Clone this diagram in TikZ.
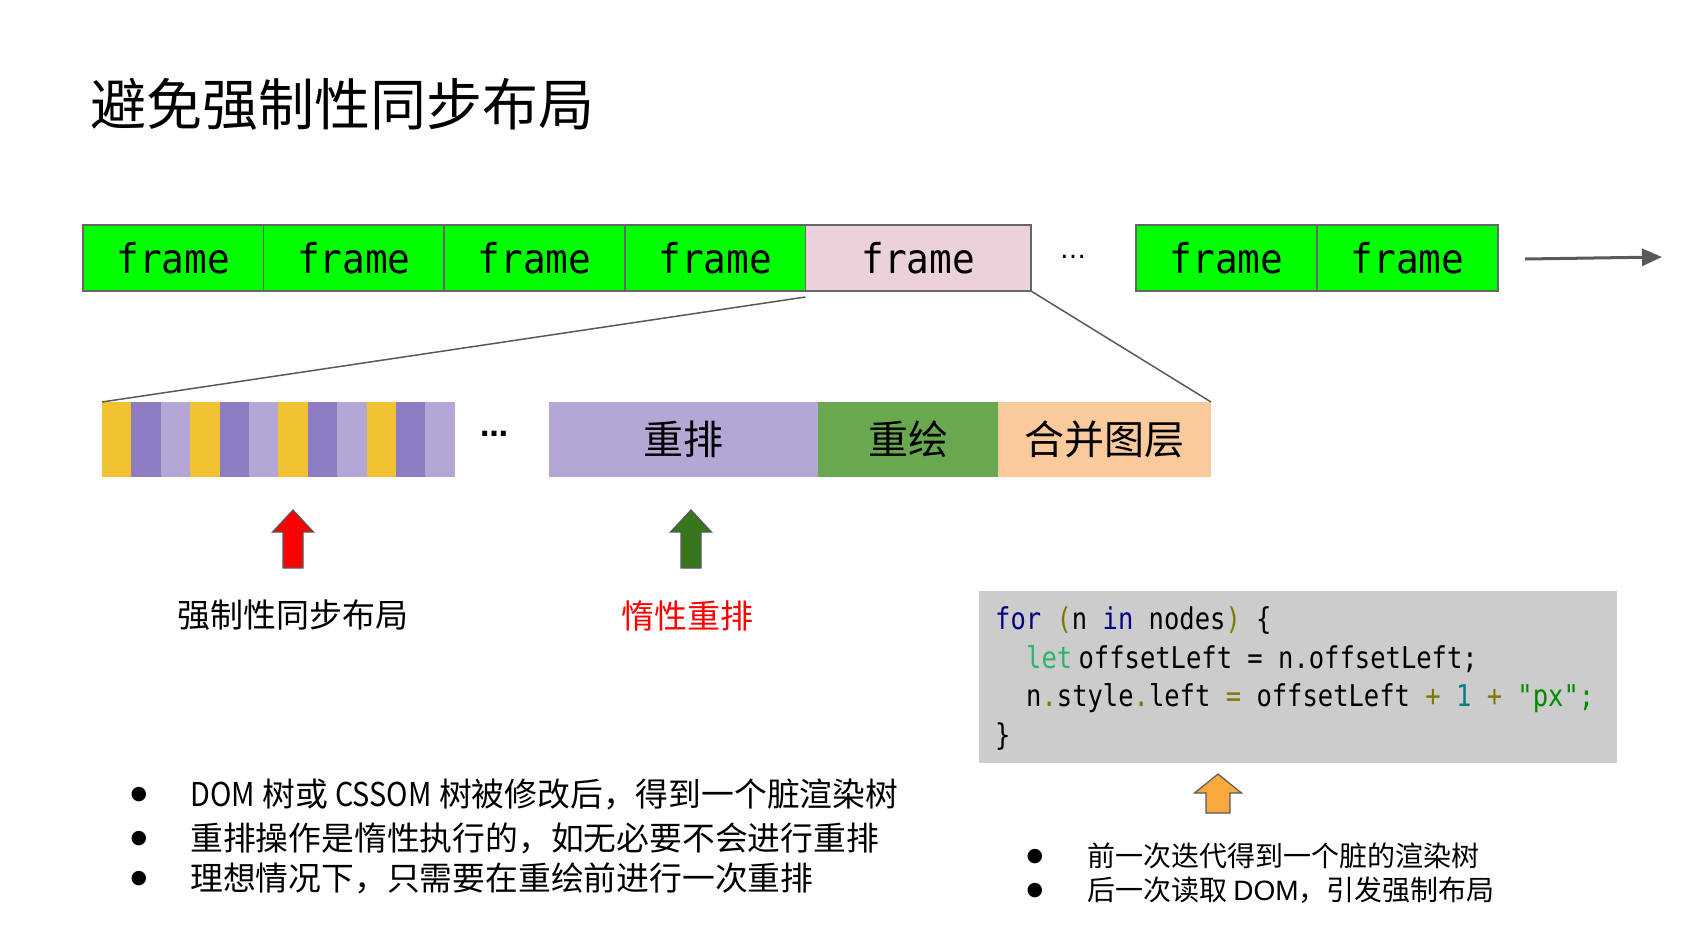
\documentclass[tikz,border=0pt]{standalone}
\usepackage{fontspec}
\setmainfont{Noto Sans CJK SC}
\newfontfamily\narrowlatin[FakeStretch=0.88]{Noto Sans CJK SC}
\newfontfamily\framemono[FakeStretch=0.92]{DejaVu Sans Mono}
\newfontfamily\codemono[FakeStretch=0.85]{DejaVu Sans Mono}
\newfontfamily\symfont{DejaVu Sans}
\newfontfamily\arialfont{Liberation Sans}
\usetikzlibrary{arrows.meta,calc}

\definecolor{framegreen}{HTML}{00FF00}
\definecolor{framepink}{HTML}{EAD1DC}
\definecolor{frameborder}{HTML}{666666}
\definecolor{stripeyellow}{HTML}{F1C232}
\definecolor{stripepurple}{HTML}{8E7CC3}
\definecolor{stripelilac}{HTML}{B4A7D6}
\definecolor{paintgreen}{HTML}{6AA84F}
\definecolor{layerpeach}{HTML}{F9CB9C}
\definecolor{codebg}{HTML}{CCCCCC}
\definecolor{linegray}{HTML}{595959}
\definecolor{arrowred}{HTML}{FF0000}
\definecolor{arrowgreen}{HTML}{38761D}
\definecolor{arroworange}{HTML}{F9A83E}
\definecolor{kwblue}{HTML}{000080}
\definecolor{codeolive}{HTML}{7A7A00}
\definecolor{letgreen}{HTML}{2DB36E}
\definecolor{numteal}{HTML}{008080}
\definecolor{strgreen}{HTML}{008A00}

\tikzset{
  framebox/.style={draw=frameborder, line width=1.5pt, fill=framegreen,
    minimum height=66pt, inner sep=0pt, outer sep=0pt, anchor=west,
    font=\framemono\fontsize{41}{44}\selectfont},
  stagebox/.style={inner sep=0pt, outer sep=0pt, minimum height=75pt, anchor=west,
    font=\fontsize{40}{44}\selectfont},
  stripe/.style={inner sep=0pt, outer sep=0pt, minimum height=75pt, minimum width=29.4pt, anchor=west},
  conn/.style={draw=linegray, line width=1.5pt},
  blockarrow/.style={draw=linegray, line width=1.2pt, line join=miter},
  codeline/.style={anchor=west, inner sep=0pt, font=\codemono\fontsize{30}{34}\selectfont},
  bulletdot/.style={inner sep=0pt, font=\symfont\fontsize{19}{21}\selectfont},
  leftitem/.style={anchor=west, inner sep=0pt, font=\fontsize{32.8}{36}\selectfont},
  rightitem/.style={anchor=west, inner sep=0pt, font=\fontsize{28}{32}\selectfont},
  caption/.style={inner sep=0pt, font=\fontsize{33}{36}\selectfont},
}

\begin{document}
\begin{tikzpicture}[x=1pt,y=-1pt]
\useasboundingbox (0,0) rectangle (1685,945);

% title
\node[anchor=west, inner sep=0pt, font=\fontsize{56}{60}\selectfont] (title) at (90,104) {避免强制性同步布局};

% timeline of frames
\node[framebox, minimum width=180.6pt] (f1) at (83,258) {frame};
\node[framebox, minimum width=180.6pt] (f2) at (f1.east) {frame};
\node[framebox, minimum width=180.6pt] (f3) at (f2.east) {frame};
\node[framebox, minimum width=180.6pt] (f4) at (f3.east) {frame};
\node[framebox, minimum width=225.6pt, fill=framepink] (pink) at (f4.east) {frame};
\node[inner sep=0pt, font=\symfont\fontsize{26}{28}\selectfont] (gap1) at (1073,257) {…};
\node[framebox, minimum width=181pt] (f6) at (1136,258) {frame};
\node[framebox, minimum width=181pt] (f7) at (f6.east) {frame};
\coordinate (tstart) at (1525,259);
\coordinate (tend) at (1662,257);
\draw[draw=linegray, line width=3pt, -{Triangle[length=20pt,width=17pt]}] (tstart) -- (tend);

% one frame expanded
\foreach \i in {0,...,11} {
  \pgfmathtruncatemacro{\k}{mod(\i,3)}
  \ifcase\k
    \node[stripe, fill=stripeyellow] (s\i) at ({102+29.4*\i},439.5) {};
  \or
    \node[stripe, fill=stripepurple] (s\i) at ({102+29.4*\i},439.5) {};
  \or
    \node[stripe, fill=stripelilac] (s\i) at ({102+29.4*\i},439.5) {};
  \fi
}
\node[inner sep=0pt, font=\symfont\bfseries\fontsize{28}{30}\selectfont] (gap2) at (494,434) {…};
\node[stagebox, minimum width=269pt, fill=stripelilac] (reflow) at (549,439.5) {重排};
\node[stagebox, minimum width=180pt, fill=paintgreen] (repaint) at (reflow.east) {重绘};
\node[stagebox, minimum width=213pt, fill=layerpeach] (composite) at (repaint.east) {合并图层};

\draw[conn] ($(pink.south west)+(0,6)$) -- (s0.north west);
\draw[conn] (pink.south east) -- (composite.north east);

% markers below the stages
\draw[blockarrow, fill=arrowred] (283,568) -- (283,532) -- (272.5,532) -- (293,510)
  -- (313.5,532) -- (303,532) -- (303,568) -- cycle;
\draw[blockarrow, fill=arrowgreen] (681,568) -- (681,532) -- (670.5,532) -- (691,510)
  -- (711.5,532) -- (701,532) -- (701,568) -- cycle;
\node[caption] (forced) at (292.5,615) {强制性同步布局};
\node[caption, text=arrowred] (lazy) at (687,616) {惰性重排};

% code sample
\node[fill=codebg, inner sep=0pt, minimum width=638pt, minimum height=172pt, anchor=north west] (code) at (979,591) {};
\node[codeline] (c1) at (995,621) {{\color{kwblue}for} {\color{codeolive}(}n {\color{kwblue}in} nodes{\color{codeolive})} \{};
\node[codeline] (c2) at (1026,659) {{\color{letgreen}let}\hspace{-0.3em} offsetLeft = n.offsetLeft;};
\node[codeline] (c3) at (1026,698) {n{\color{codeolive}.}style{\color{codeolive}.}left {\color{codeolive}=} offsetLeft {\color{codeolive}+} {\color{numteal}1} {\color{codeolive}+} {\color{strgreen}"px";}};
\node[codeline] (c4) at (995,737) {\}};
\draw[blockarrow, fill=arroworange] (1206,813) -- (1206,793) -- (1194.5,793) -- (1218,774)
  -- (1241.5,793) -- (1230,793) -- (1230,813) -- cycle;

% notes
\node[bulletdot] (b1) at (139,795) {●};
\node[bulletdot] (b2) at (139,839) {●};
\node[bulletdot] (b3) at (139,879) {●};
\node[leftitem] (t1) at (190,794) {{\narrowlatin DOM} 树或 {\narrowlatin CSSOM} 树被修改后，得到一个脏渲染树};
\node[leftitem] (t2) at (190,838) {重排操作是惰性执行的，如无必要不会进行重排};
\node[leftitem] (t3) at (190,878) {理想情况下，只需要在重绘前进行一次重排};

\node[bulletdot] (b4) at (1035,857) {●};
\node[bulletdot] (b5) at (1035,891) {●};
\node[rightitem] (r1) at (1087,856) {前一次迭代得到一个脏的渲染树};
\node[rightitem] (r2) at (1087,890) {后一次读取 {\arialfont DOM}，引发强制布局};
\end{tikzpicture}
\end{document}
